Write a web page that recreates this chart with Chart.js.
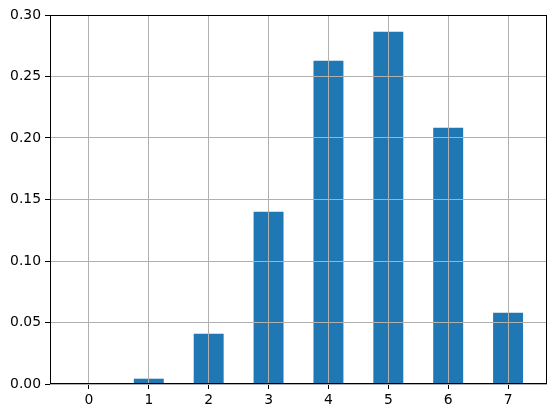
<!DOCTYPE html>
<html>
<head>
<meta charset="utf-8">
<script src="https://cdn.jsdelivr.net/npm/chart.js@4/dist/chart.umd.min.js"></script>
<style>
html,body{margin:0;padding:0;background:#fff;}
#wrap{width:556px;height:418px;}
</style>
</head>
<body>
<div id="wrap"><canvas id="c" width="556" height="418"></canvas></div>
<script>
const categories = [0, 1, 2, 3, 4, 5, 6, 7];
const probabilities = [0.0002, 0.0043, 0.0409, 0.1401, 0.2628, 0.2864, 0.2084, 0.0580];
const yTicks = [0, 0.05, 0.10, 0.15, 0.20, 0.25, 0.30];

const framePlugin = {
  id: 'frame',
  afterDraw(chart) {
    const a = chart.chartArea, ctx = chart.ctx;
    ctx.save();
    ctx.strokeStyle = '#000';
    ctx.lineWidth = 1;
    ctx.strokeRect(Math.round(a.left) + 0.5, Math.round(a.top) + 0.5,
      Math.round(a.right - a.left) - 1, Math.round(a.bottom - a.top) - 1);
    ctx.restore();
  }
};

const font = { family: 'DejaVu Sans', size: 13.9 };

new Chart(document.getElementById('c'), {
  type: 'bar',
  data: {
    datasets: [{
      data: categories.map((c, i) => ({ x: c, y: probabilities[i] })),
      backgroundColor: '#1f77b4',
      borderWidth: 0,
      barPercentage: 0.5,
      categoryPercentage: 1.0
    }]
  },
  options: {
    responsive: false,
    animation: false,
    devicePixelRatio: 1,
    layout: { padding: { left: 0, top: 15, right: 9, bottom: 0 } },
    plugins: { legend: { display: false }, tooltip: { enabled: false } },
    scales: {
      x: {
        type: 'linear',
        min: -0.65,
        max: 7.65,
        offset: false,
        afterBuildTicks(scale) { scale.ticks = categories.map(v => ({ value: v })); },
        afterFit(scale) { scale.height = 34; },
        grid: { z: 1, offset: false, color: '#b0b0b0', lineWidth: 1, tickColor: '#000', tickLength: 5, drawTicks: true },
        border: { display: false },
        ticks: { color: '#000', font, padding: 3, maxRotation: 0, autoSkip: false,
          callback: v => String(v) }
      },
      y: {
        type: 'linear',
        min: 0,
        max: 0.30,
        afterBuildTicks(scale) { scale.ticks = yTicks.map(v => ({ value: v })); },
        afterFit(scale) { scale.width = 50; },
        grid: { z: 1, color: '#b0b0b0', lineWidth: 1, tickColor: '#000', tickLength: 5, drawTicks: true },
        border: { display: false },
        ticks: { color: '#000', font, padding: 4, callback: v => v.toFixed(2) }
      }
    }
  },
  plugins: [framePlugin]
});
</script>
</body>
</html>
